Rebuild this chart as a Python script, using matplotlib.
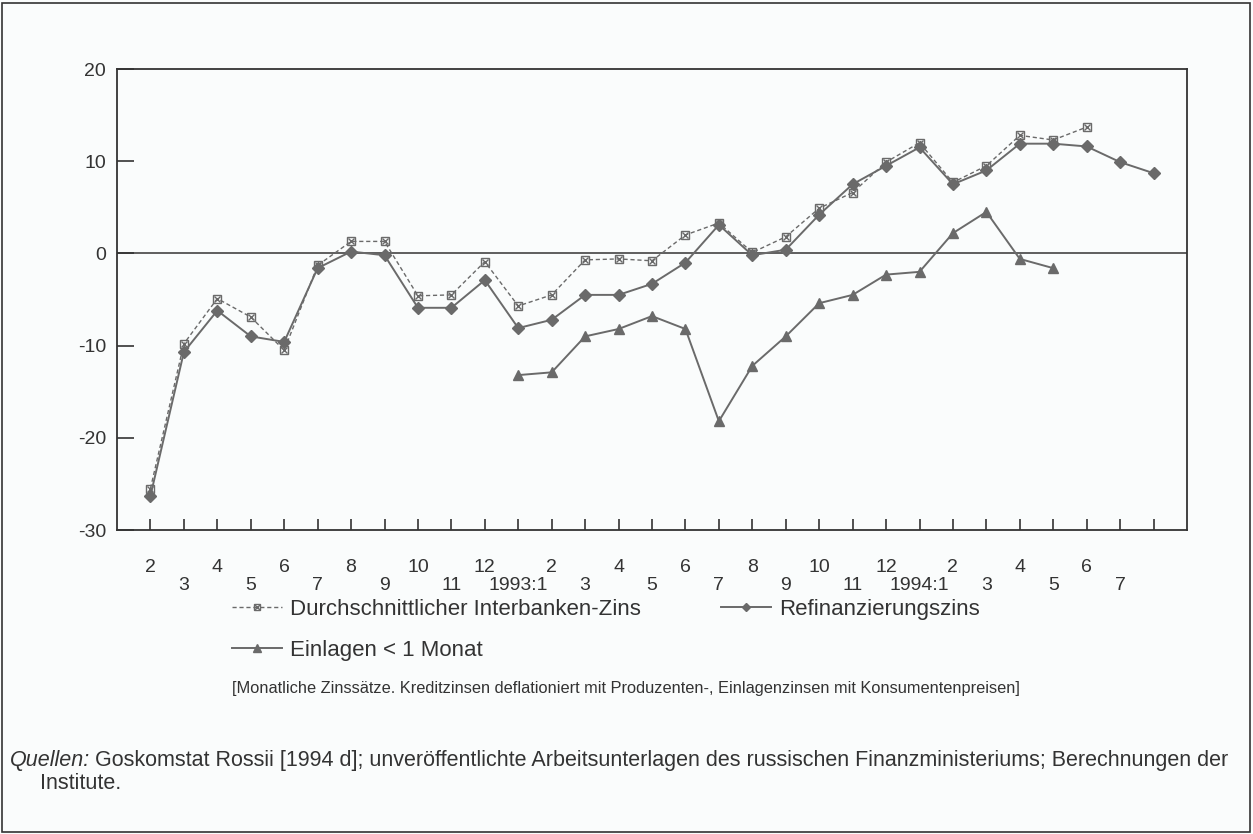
import numpy as np
import matplotlib
matplotlib.use("Agg")
import matplotlib.pyplot as plt
from matplotlib.patches import Rectangle
from matplotlib.legend_handler import HandlerTuple

plt.rcParams["font.family"] = ["Liberation Sans", "DejaVu Sans"]
plt.rcParams["axes.unicode_minus"] = False

# months 1992:2 ... 1994:8 (last month has no label)
month_labels = [
    "2", "3", "4", "5", "6", "7", "8", "9", "10", "11", "12",
    "1993:1", "2", "3", "4", "5", "6", "7", "8", "9", "10", "11", "12",
    "1994:1", "2", "3", "4", "5", "6", "7", "",
]

interbank = [
    -25.5, -9.8, -4.9, -6.9, -10.5, -1.3, 1.3, 1.3, -4.6, -4.5, -0.9,
    -5.7, -4.5, -0.7, -0.6, -0.8, 2.0, 3.3, 0.1, 1.8, 4.9, 6.6, 9.9,
    12.0, 7.7, 9.5, 12.8, 12.3, 13.7,
]
refi = [
    -26.3, -10.7, -6.2, -9.0, -9.6, -1.6, 0.2, -0.2, -5.9, -5.9, -2.9,
    -8.1, -7.2, -4.5, -4.5, -3.3, -1.0, 3.1, -0.2, 0.4, 4.2, 7.5, 9.5,
    11.5, 7.5, 9.0, 11.9, 11.9, 11.6, 9.9, 8.7,
]
einlagen_start = 11  # first value is 1993:1
einlagen = [
    -13.2, -12.9, -9.0, -8.2, -6.8, -8.2, -18.2, -12.2, -9.0, -5.4,
    -4.5, -2.3, -2.0, 2.2, 4.5, -0.6, -1.6,
]

line_col = "#6a6a6a"
dark = "#333333"
bg = "#fafcfc"

fig = plt.figure(figsize=(12.53, 8.34), dpi=100, facecolor=bg)
ax = fig.add_axes([117 / 1253, 1 - 530 / 834, (1187 - 117) / 1253, (530 - 69) / 834])
ax.set_facecolor(bg)

x_ib = np.arange(len(interbank))
x_rf = np.arange(len(refi))
x_el = np.arange(einlagen_start, einlagen_start + len(einlagen))

ax.axhline(0, color="#444444", lw=1.2, zorder=1)

ib_line, = ax.plot(x_ib, interbank, color=line_col, lw=1.0, ls=(0, (3, 2)),
                   marker="s", ms=6, mfc="none", mec=line_col, mew=1.0, zorder=3)
ib_x, = ax.plot(x_ib, interbank, ls="none", marker="x", ms=5, mec=line_col,
                mew=1.0, zorder=3)
rf_line, = ax.plot(x_rf, refi, color=line_col, lw=1.4, marker="D", ms=6,
                   mfc=line_col, mec=line_col, zorder=2)
el_line, = ax.plot(x_el, einlagen, color=line_col, lw=1.4, marker="^", ms=7,
                   mfc=line_col, mec=line_col, zorder=2)

ax.set_xlim(-1, len(month_labels))
ax.set_ylim(-30, 20)
ax.set_yticks([-30, -20, -10, 0, 10, 20])

ax.set_xticks(np.arange(len(month_labels)))
ax.set_xticklabels(month_labels)
ax.tick_params(axis="x", direction="in", length=8, width=1.2, color=dark,
               labelsize=14, labelcolor=dark)
ax.tick_params(axis="y", direction="in", length=12, width=1.2, color=dark,
               labelsize=14, labelcolor=dark, pad=8)
for i, tick in enumerate(ax.xaxis.get_major_ticks()):
    tick.set_pad(21 if i % 2 == 0 else 34)

for sp in ax.spines.values():
    sp.set_color(dark)
    sp.set_linewidth(1.3)

# legend: Interbank + Einlagen in column 1, Refi in column 2
leg = fig.legend(
    [(ib_line, ib_x), el_line, rf_line],
    ["Durchschnittlicher Interbanken-Zins", "Einlagen < 1 Monat", "Refinanzierungszins"],
    handler_map={tuple: HandlerTuple(ndivide=1)},
    ncol=2, loc="upper left", bbox_to_anchor=(212 / 1253, 1 - 579 / 834),
    frameon=False, fontsize=16, handlelength=2.25, handletextpad=0.36,
    columnspacing=3.6, labelspacing=0.9, markerscale=0.75,
    labelcolor=dark,
)

fig.text(232 / 1253, 1 - 693 / 834,
         "[Monatliche Zinssätze. Kreditzinsen deflationiert mit Produzenten-, "
         "Einlagenzinsen mit Konsumentenpreisen]",
         fontsize=11.8, color=dark, va="baseline", ha="left")

q = fig.text(10 / 1253, 1 - 766 / 834, "Quellen:", fontsize=15.5,
             style="italic", color=dark, va="baseline", ha="left")
fig.canvas.draw()
qb = q.get_window_extent()
fig.text((qb.x1 + 5) / 1253, 1 - 766 / 834,
         "Goskomstat Rossii [1994 d]; unveröffentlichte Arbeitsunterlagen des "
         "russischen Finanzministeriums; Berechnungen der",
         fontsize=15.5, color=dark, va="baseline", ha="left")
fig.text(40 / 1253, 1 - 789 / 834, "Institute.", fontsize=15.5, color=dark,
         va="baseline", ha="left")

fig.patches.append(Rectangle((2 / 1253, 2 / 834), 1 - 5 / 1253, 1 - 5 / 834,
                             transform=fig.transFigure, fill=False,
                             edgecolor=dark, lw=1.2))

fig.savefig("out.png", dpi=100, facecolor=bg)
